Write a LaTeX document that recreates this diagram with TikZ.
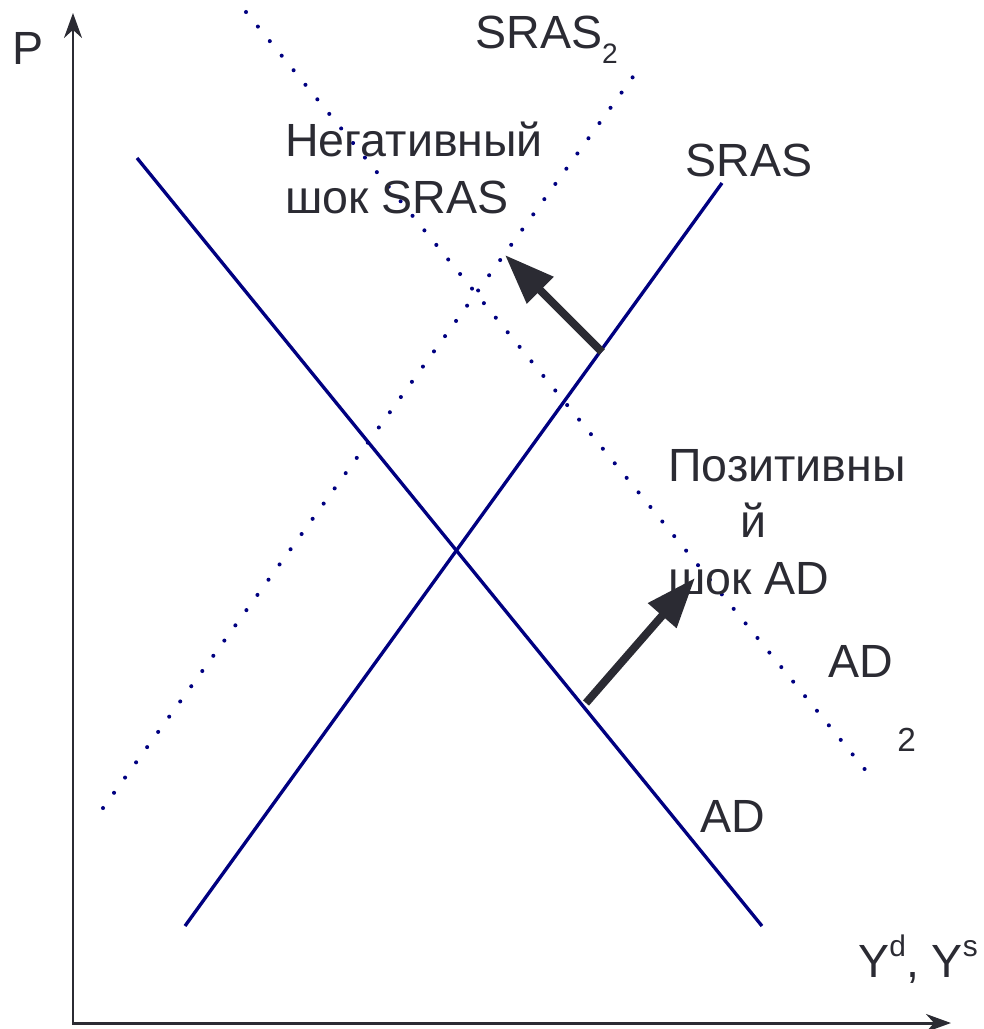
\documentclass[tikz,border=0pt]{standalone}
\usepackage{fontspec}
\setmainfont{Liberation Sans}
\usetikzlibrary{arrows.meta,positioning}
\definecolor{navyline}{HTML}{000080}
\definecolor{inkgray}{HTML}{2B2B33}
\newcommand{\lowtwo}[1]{\raisebox{-0.33em}{\fontsize{16}{16}\selectfont #1}}
\newcommand{\hightxt}[1]{\raisebox{0.45em}{\fontsize{17}{17}\selectfont #1}}

\begin{document}
\begin{tikzpicture}[x=0.02cm,y=-0.02cm,
  axisline/.style={inkgray,line width=1.7pt},
  schedule/.style={navyline,line width=1.9pt},
  dotcurve/.style={navyline,line width=2.3pt,line cap=round,dash pattern=on 0pt off 10.7pt},
  shockarrow/.style={inkgray,line width=4.5pt,-{Triangle[length=1cm,width=0.72cm]}},
  lbl/.style={inkgray,font=\fontsize{26.5}{32}\selectfont,inner sep=0pt,anchor=base west,align=left}]
  \useasboundingbox (0,0) rectangle (984,1029);
  % osi
  \coordinate (origin) at (73,1023);
  \coordinate (ptop) at (73,13);
  \coordinate (yend) at (951,1023);
  \draw[axisline,{Stealth[length=0.5cm,width=0.36cm]}-{Stealth[length=0.5cm,width=0.36cm]}] (ptop) -- (origin) -- (yend);
  % krivye AD i SRAS
  \coordinate (ad-top) at (137,158);
  \coordinate (ad-bot) at (762,926);
  \coordinate (sras-bot) at (185,926);
  \coordinate (sras-top) at (722,183);
  \draw[schedule] (ad-top) -- (ad-bot);
  \draw[schedule] (sras-bot) -- (sras-top);
  % sdvinutye krivye
  \coordinate (sras2-bot) at (103,808);
  \coordinate (sras2-top) at (643,63);
  \coordinate (ad2-top) at (246,12);
  \coordinate (ad2-bot) at (876,783);
  \draw[dotcurve] (sras2-bot) -- (sras2-top);
  \draw[dotcurve] (ad2-top) -- (ad2-bot);
  % shoki
  \coordinate (sh1-from) at (602,352);
  \coordinate (sh1-to) at (505,255);
  \coordinate (sh2-from) at (586,703);
  \coordinate (sh2-to) at (695,578);
  \draw[shockarrow] (sh1-from) -- (sh1-to);
  \draw[shockarrow] (sh2-from) -- (sh2-to);
  % podpisi (base = poslednyaya stroka)
  \node[lbl] (plbl) at (12,64) {P};
  \node[lbl] (sras2lbl) at (475,48) {SRAS\lowtwo{2}};
  \node[lbl] (negshock) at (285,213) {Негативный\\шок SRAS};
  \node[lbl] (sraslbl) at (685,176) {SRAS};
  \node[lbl] (posshock) at (668,594) {Позитивны\\\hspace*{1.44cm}й\\шок AD};
  \node[lbl] (ad2lbl) at (828,751) {AD\\[10pt]\hspace*{1.38cm}{\fontsize{19}{19}\selectfont 2}};
  \node[lbl] (adlbl) at (700,832) {AD};
  \node[lbl] (ylbl) at (858,977) {Y\hightxt{d}, Y\hightxt{s}};
\end{tikzpicture}
\end{document}
